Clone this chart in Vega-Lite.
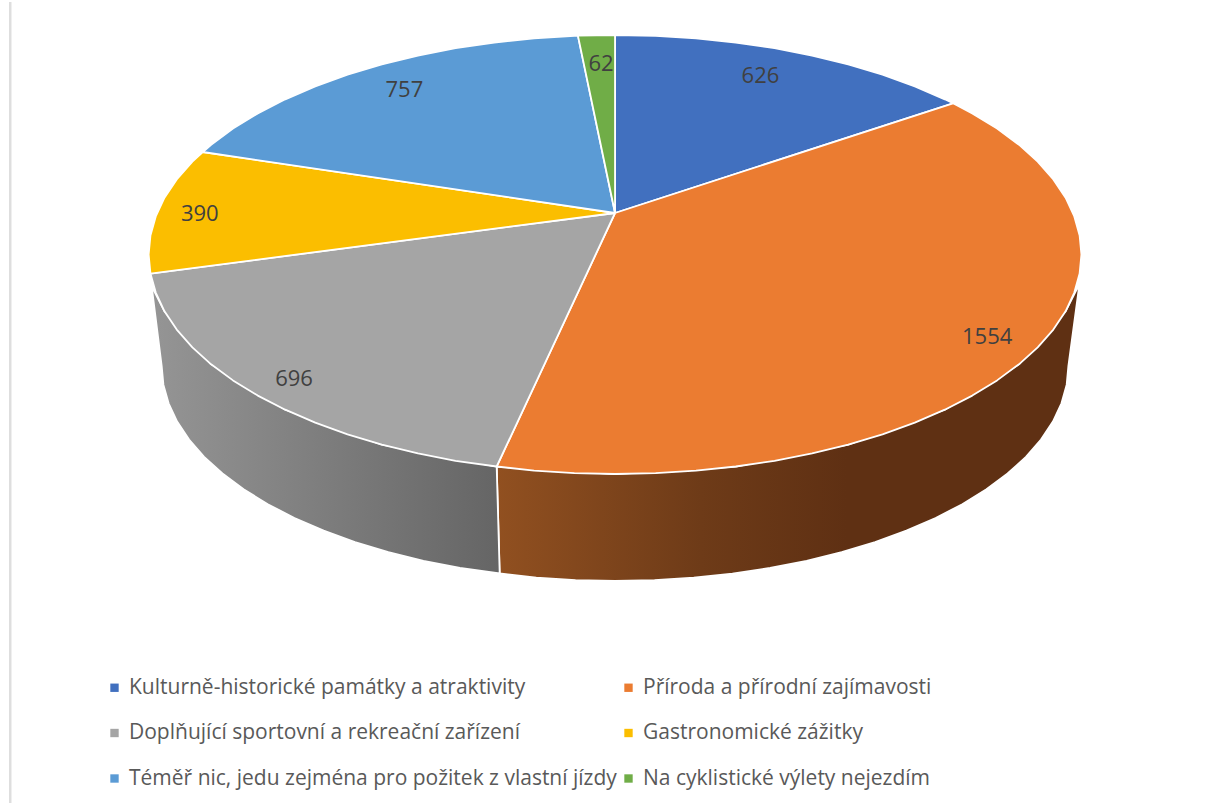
{"$schema":"https://vega.github.io/schema/vega-lite/v6.json","width":1208,"height":805,"padding":0,"autosize":{"type":"fit","contains":"padding"},"background":"white","view":{"stroke":null},
"datasets":{
"slices":[
{"id":"a","name":"Kulturně-historické památky a atraktivity","value":626,"lx":145,"ly":137},
{"id":"b","name":"Příroda a přírodní zajímavosti","value":1554,"lx":371,"ly":-124},
{"id":"c","name":"Doplňující sportovní a rekreační zařízení","value":696,"lx":-320,"ly":-166},
{"id":"d","name":"Gastronomické zážitky","value":390,"lx":-414,"ly":-1},
{"id":"e","name":"Téměř nic, jedu zejména pro požitek z vlastní jízdy","value":757,"lx":-210,"ly":123},
{"id":"f","name":"Na cyklistické výlety nejezdím","value":62,"lx":-14,"ly":149}],
"wallB":[{"o":1,"x":-118,"y":-253.5},{"o":3,"x":0,"y":-261},{"o":4,"x":120.4,"y":-253.5},{"o":5,"x":232.5,"y":-231.6},{"o":6,"x":328.8,"y":-196.7},{"o":7,"x":402.7,"y":-151.3},{"o":8,"x":449.2,"y":-98.3},{"o":9,"x":463,"y":-71},{"o":10,"x":452,"y":-153},{"o":11,"x":450.3,"y":-171.7},{"o":12,"x":445.1,"y":-190.3},{"o":13,"x":436.6,"y":-208.6},{"o":14,"x":424.7,"y":-226.5},{"o":15,"x":409.7,"y":-243.9},{"o":16,"x":391.4,"y":-260.5},{"o":17,"x":370.3,"y":-276.3},{"o":18,"x":346.2,"y":-291.2},{"o":19,"x":319.6,"y":-305},{"o":20,"x":290.5,"y":-317.7},{"o":21,"x":259.3,"y":-329.1},{"o":22,"x":226,"y":-339.2},{"o":23,"x":191,"y":-347.9},{"o":24,"x":154.6,"y":-355},{"o":25,"x":117,"y":-360.7},{"o":26,"x":78.5,"y":-364.7},{"o":27,"x":39.4,"y":-367.2},{"o":28,"x":0,"y":-368},{"o":29,"x":-39.4,"y":-367.2},{"o":30,"x":-78.5,"y":-364.7},{"o":31,"x":-115,"y":-360.5},{"o":32,"x":-118,"y":-253.5}],
"wallC":[{"o":1,"x":-462,"y":-73},{"o":3,"x":-449.2,"y":-98.3},{"o":4,"x":-402.7,"y":-151.3},{"o":5,"x":-328.8,"y":-196.7},{"o":6,"x":-232.5,"y":-231.6},{"o":7,"x":-118,"y":-253.5},{"o":8,"x":-115,"y":-360.5},{"o":9,"x":-154.6,"y":-355},{"o":10,"x":-191,"y":-347.9},{"o":11,"x":-226,"y":-339.2},{"o":12,"x":-259.3,"y":-329.1},{"o":13,"x":-290.5,"y":-317.7},{"o":14,"x":-319.6,"y":-305},{"o":15,"x":-346.2,"y":-291.2},{"o":16,"x":-370.3,"y":-276.3},{"o":17,"x":-391.4,"y":-260.5},{"o":18,"x":-409.7,"y":-243.9},{"o":19,"x":-424.7,"y":-226.5},{"o":20,"x":-436.6,"y":-208.6},{"o":21,"x":-445.1,"y":-190.3},{"o":22,"x":-450.3,"y":-171.7},{"o":23,"x":-452,"y":-153},{"o":24,"x":-462,"y":-73}],
"top":[
{"id":"a","o":1,"x":0,"y":0},{"id":"a","o":2,"x":0,"y":178},{"id":"a","o":3,"x":40.5,"y":177.2},{"id":"a","o":4,"x":80.7,"y":174.7},{"id":"a","o":5,"x":120.4,"y":170.5},{"id":"a","o":6,"x":159,"y":164.8},{"id":"a","o":7,"x":196.5,"y":157.4},{"id":"a","o":8,"x":232.5,"y":148.6},{"id":"a","o":9,"x":266.7,"y":138.3},{"id":"a","o":10,"x":298.9,"y":126.6},{"id":"a","o":11,"x":328.8,"y":113.7},{"id":"a","o":12,"x":337,"y":109.7},{"id":"a","o":13,"x":0,"y":0},
{"id":"b","o":1,"x":0,"y":0},{"id":"b","o":2,"x":337,"y":109.7},{"id":"b","o":3,"x":356.2,"y":99.6},{"id":"b","o":4,"x":380.9,"y":84.4},{"id":"b","o":5,"x":402.7,"y":68.3},{"id":"b","o":6,"x":421.4,"y":51.3},{"id":"b","o":7,"x":437,"y":33.6},{"id":"b","o":8,"x":449.2,"y":15.3},{"id":"b","o":9,"x":457.9,"y":-3.4},{"id":"b","o":10,"x":463.2,"y":-22.4},{"id":"b","o":11,"x":465,"y":-41.5},{"id":"b","o":12,"x":463.2,"y":-60.6},{"id":"b","o":13,"x":457.9,"y":-79.6},{"id":"b","o":14,"x":449.2,"y":-98.3},{"id":"b","o":15,"x":437,"y":-116.6},{"id":"b","o":16,"x":421.4,"y":-134.3},{"id":"b","o":17,"x":402.7,"y":-151.3},{"id":"b","o":18,"x":380.9,"y":-167.4},{"id":"b","o":19,"x":356.2,"y":-182.6},{"id":"b","o":20,"x":328.8,"y":-196.7},{"id":"b","o":21,"x":298.9,"y":-209.6},{"id":"b","o":22,"x":266.7,"y":-221.3},{"id":"b","o":23,"x":232.5,"y":-231.6},{"id":"b","o":24,"x":196.5,"y":-240.4},{"id":"b","o":25,"x":159,"y":-247.8},{"id":"b","o":26,"x":120.4,"y":-253.5},{"id":"b","o":27,"x":80.7,"y":-257.7},{"id":"b","o":28,"x":40.5,"y":-260.2},{"id":"b","o":29,"x":0,"y":-261},{"id":"b","o":30,"x":-40.5,"y":-260.2},{"id":"b","o":31,"x":-80.7,"y":-257.7},{"id":"b","o":32,"x":-118,"y":-253.5},{"id":"b","o":33,"x":0,"y":0},
{"id":"c","o":1,"x":0,"y":0},{"id":"c","o":2,"x":-118,"y":-253.5},{"id":"c","o":3,"x":-159,"y":-247.8},{"id":"c","o":4,"x":-196.5,"y":-240.4},{"id":"c","o":5,"x":-232.5,"y":-231.6},{"id":"c","o":6,"x":-266.7,"y":-221.3},{"id":"c","o":7,"x":-298.9,"y":-209.6},{"id":"c","o":8,"x":-328.8,"y":-196.7},{"id":"c","o":9,"x":-356.2,"y":-182.6},{"id":"c","o":10,"x":-380.9,"y":-167.4},{"id":"c","o":11,"x":-402.7,"y":-151.3},{"id":"c","o":12,"x":-421.4,"y":-134.3},{"id":"c","o":13,"x":-437,"y":-116.6},{"id":"c","o":14,"x":-449.2,"y":-98.3},{"id":"c","o":15,"x":-457.9,"y":-79.6},{"id":"c","o":16,"x":-463.2,"y":-60.6},{"id":"c","o":17,"x":0,"y":0},
{"id":"d","o":1,"x":0,"y":0},{"id":"d","o":2,"x":-463.2,"y":-60.6},{"id":"d","o":3,"x":-465,"y":-41.5},{"id":"d","o":4,"x":-463.2,"y":-22.4},{"id":"d","o":5,"x":-457.9,"y":-3.4},{"id":"d","o":6,"x":-449.2,"y":15.3},{"id":"d","o":7,"x":-437,"y":33.6},{"id":"d","o":8,"x":-421.4,"y":51.3},{"id":"d","o":9,"x":-411,"y":61},{"id":"d","o":10,"x":0,"y":0},
{"id":"e","o":1,"x":0,"y":0},{"id":"e","o":2,"x":-411,"y":61},{"id":"e","o":3,"x":-402.7,"y":68.3},{"id":"e","o":4,"x":-380.9,"y":84.4},{"id":"e","o":5,"x":-356.2,"y":99.6},{"id":"e","o":6,"x":-328.8,"y":113.7},{"id":"e","o":7,"x":-298.9,"y":126.6},{"id":"e","o":8,"x":-266.7,"y":138.3},{"id":"e","o":9,"x":-232.5,"y":148.6},{"id":"e","o":10,"x":-196.5,"y":157.4},{"id":"e","o":11,"x":-159,"y":164.8},{"id":"e","o":12,"x":-120.4,"y":170.5},{"id":"e","o":13,"x":-80.7,"y":174.7},{"id":"e","o":14,"x":-40.5,"y":177.2},{"id":"e","o":15,"x":-37,"y":177.4},{"id":"e","o":16,"x":0,"y":0},
{"id":"f","o":1,"x":0,"y":0},{"id":"f","o":2,"x":-37,"y":177.4},{"id":"f","o":3,"x":0,"y":178},{"id":"f","o":4,"x":0,"y":0}]
},
"layer":[
{"data":{"values":[{"x":-603}]},"mark":{"type":"rule","color":"#DEDEDE","strokeWidth":2.5},"encoding":{"x":{"field":"x","type":"quantitative","axis":null,"scale":{"domain":[-613.2,591.2],"nice":false,"zero":false}}}},
{"data":{"name":"wallB"},"mark":{"type":"line","interpolate":"linear","strokeJoin":"round","stroke":"white","strokeWidth":1.8,"fill":{"gradient":"linear","x1":0,"y1":0,"x2":1,"y2":0,"stops":[{"offset":0,"color":"#915020"},{"offset":0.35,"color":"#6E3B18"},{"offset":0.6,"color":"#5F3013"},{"offset":1,"color":"#5F3013"}]}},
"encoding":{"x":{"field":"x","type":"quantitative","axis":null,"scale":{"domain":[-613.2,591.2],"nice":false,"zero":false}},"y":{"field":"y","type":"quantitative","axis":null,"scale":{"domain":[-590,211],"nice":false,"zero":false}},"order":{"field":"o","type":"quantitative"}}},
{"data":{"name":"wallC"},"mark":{"type":"line","interpolate":"linear","strokeJoin":"round","stroke":"white","strokeWidth":1.8,"fill":{"gradient":"linear","x1":0,"y1":0,"x2":1,"y2":0,"stops":[{"offset":0,"color":"#959595"},{"offset":1,"color":"#656565"}]}},
"encoding":{"x":{"field":"x","type":"quantitative","axis":null},"y":{"field":"y","type":"quantitative","axis":null},"order":{"field":"o","type":"quantitative"}}},
{"data":{"name":"top"},"transform":[{"lookup":"id","from":{"data":{"name":"slices"},"key":"id","fields":["name"]}}],"mark":{"type":"line","interpolate":"linear","strokeJoin":"round","stroke":"white","strokeWidth":1.8},
"encoding":{"x":{"field":"x","type":"quantitative","axis":null},"y":{"field":"y","type":"quantitative","axis":null},"order":{"field":"o","type":"quantitative"},
"fill":{"field":"name","type":"nominal","scale":{"domain":["Kulturně-historické památky a atraktivity","Příroda a přírodní zajímavosti","Doplňující sportovní a rekreační zařízení","Gastronomické zážitky","Téměř nic, jedu zejména pro požitek z vlastní jízdy","Na cyklistické výlety nejezdím"],"range":["#4170BF","#EB7C31","#A5A5A5","#FBBE00","#5B9BD5","#70AD47"]},
"legend":{"title":null,"orient":"none","direction":"horizontal","legendX":104,"legendY":675,"columns":2,"symbolType":"square","symbolSize":70,"symbolStrokeWidth":0,"labelFont":"Open Sans","labelFontSize":21,"labelColor":"#595959","labelLimit":700,"labelOffset":4,"rowPadding":23.5,"columnPadding":1,"padding":0}}}},
{"data":{"name":"slices"},"mark":{"type":"text","font":"Open Sans","fontSize":22,"color":"#404040"},"encoding":{"x":{"field":"lx","type":"quantitative","axis":null},"y":{"field":"ly","type":"quantitative","axis":null},"text":{"field":"value","type":"quantitative"}}}
]}
